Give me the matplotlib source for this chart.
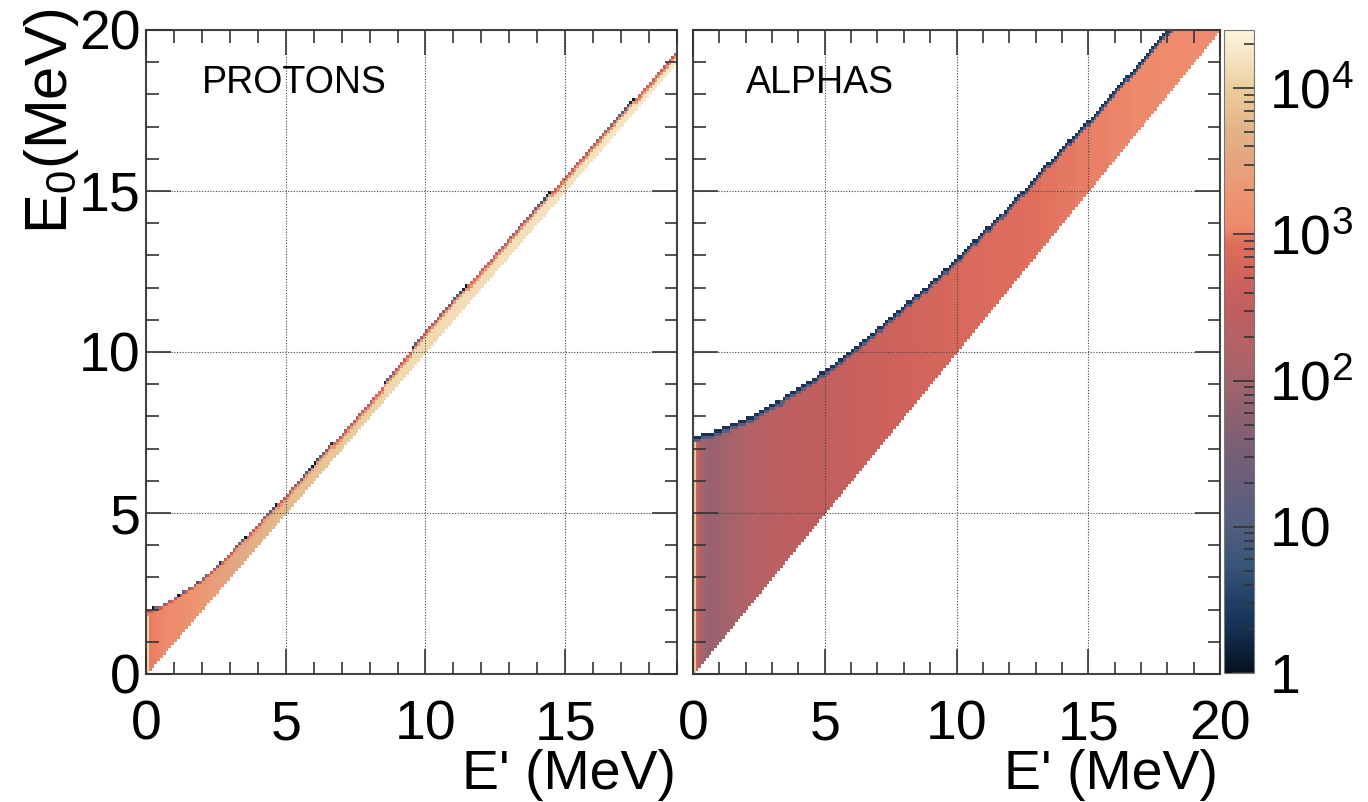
import numpy as np
import matplotlib

matplotlib.use("Agg")
import matplotlib.pyplot as plt
from matplotlib.colors import LinearSegmentedColormap, LogNorm
from matplotlib.ticker import FixedLocator, MultipleLocator, NullFormatter

plt.rcParams["font.family"] = ["Liberation Sans", "DejaVu Sans"]
plt.rcParams["mathtext.fontset"] = "custom"
plt.rcParams["mathtext.rm"] = "Liberation Sans"
plt.rcParams["mathtext.it"] = "Liberation Sans:italic"

# palette: log10(counts) -> colour
palette_log = [0.0, 0.25, 0.5, 0.75, 1.0, 1.25, 1.5, 1.75, 2.0, 2.25, 2.5,
               2.75, 2.95, 3.05, 3.25, 3.5, 3.75, 4.0, 4.2, 4.4]
palette_hex = ["#06121f", "#122c4c", "#224068", "#3a5678", "#525e80", "#655e7b",
               "#765e76", "#8c6170", "#a2636c", "#b36266", "#c15e5e", "#d2645b",
               "#e06e5c", "#ee8a6c", "#ec946f", "#e4a47f", "#e3b68a", "#eacc9e",
               "#f5e2bf", "#fcf3dc"]
z_min, z_max = 1.0, 2.5e4

# protons: upper edge of the filled band (lower edge is E0 = E')
proton_edge_x = [0.0, 0.5, 1.0, 1.5, 2.0, 2.5, 3.0, 3.6, 4.0, 4.7, 5.0, 6.0,
                 6.5, 7.0, 8.0, 10.0, 13.0, 16.0, 19.0]
proton_edge_e0 = [1.95, 2.05, 2.32, 2.6, 2.9, 3.28, 3.7, 4.25, 4.6, 5.25, 5.5,
                  6.45, 6.98, 7.4, 8.4, 10.6, 13.5, 16.4, 19.3]
# log10(counts) inside the band, column by column
proton_core_x = [0.05, 0.15, 1.0, 2.0, 3.0, 4.0, 5.0, 7.0, 9.0, 12.0, 16.0, 19.0]
proton_core_log = [4.1, 3.0, 3.08, 3.3, 3.5, 3.65, 3.8, 3.95, 4.1, 4.15, 4.2, 4.25]
proton_fringe_log = [2.85, 3.3]

# alphas: upper edge of the filled region
alpha_edge_x = [0.0, 0.7, 1.0, 1.3, 1.7, 2.2, 2.6, 3.0, 3.35, 4.0, 5.0, 6.0,
                7.0, 8.0, 9.0, 10.0, 11.0, 12.0, 13.0, 14.0, 15.0, 16.0,
                17.0, 18.0, 19.0, 20.0]
alpha_edge_e0 = [7.33, 7.48, 7.58, 7.67, 7.8, 7.98, 8.14, 8.35, 8.5, 8.85, 9.38,
                 10.0, 10.68, 11.4, 12.1, 12.86, 13.7, 14.5, 15.4, 16.3, 17.15,
                 18.1, 19.0, 19.95, 20.9, 21.8]
alpha_core_x = [0.05, 0.15, 0.3, 0.6, 1.0, 2.0, 3.0, 5.0, 7.0, 10.0, 13.0, 16.0, 20.0]
alpha_core_log = [4.0, 2.7, 2.1, 1.85, 1.95, 2.2, 2.38, 2.52, 2.65, 2.82, 2.95, 3.03, 3.1]
alpha_fringe_log = [0.35, 1.1]

bin_width = 0.1


def build_counts(x_max, y_max, edge_x, edge_e0, core_x, core_log, fringe_log, partial):
    x_edges = np.linspace(0.0, x_max, int(round(x_max / bin_width)) + 1)
    y_edges = np.linspace(0.0, y_max, int(round(y_max / bin_width)) + 1)
    xc = 0.5 * (x_edges[:-1] + x_edges[1:])
    yc = 0.5 * (y_edges[:-1] + y_edges[1:])
    X, Y = np.meshgrid(xc, yc)
    upper = np.interp(xc, edge_x, edge_e0)[None, :]
    core = np.interp(xc, core_x, core_log)[None, :] + 0 * Y
    ylo = Y - bin_width / 2
    cover = (upper - ylo) / bin_width
    depth = np.floor(cover)
    logc = core.copy()
    for k, lv in enumerate(fringe_log):
        logc = np.where(depth == k, np.minimum(logc, lv), logc)
    if partial:
        frac = np.clip(cover, 1e-3, 1.0)
        logc = np.where(depth == 0, logc + partial * np.log10(frac), logc)
    logc = np.clip(logc, 0.1, None)
    inside = (Y >= X - 1e-6) & (cover > 0)
    counts = np.ma.masked_where(~inside, 10.0 ** logc)
    return x_edges, y_edges, counts


cmap = LinearSegmentedColormap.from_list(
    "root_pal",
    list(zip((np.array(palette_log) - palette_log[0]) / (palette_log[-1] - palette_log[0]),
             palette_hex)),
)
norm = LogNorm(vmin=z_min, vmax=z_max)

fig = plt.figure(figsize=(13.68, 8.02), dpi=100)
ax_p = fig.add_axes([146 / 1368, 1 - 674 / 802, 531 / 1368, 644 / 802])
ax_a = fig.add_axes([693 / 1368, 1 - 674 / 802, 527 / 1368, 644 / 802])
ax_cb = fig.add_axes([1224 / 1368, 1 - 673 / 802, 30 / 1368, 643 / 802])

panels = [
    (ax_p, 19.0, proton_edge_x, proton_edge_e0, proton_core_x, proton_core_log,
     proton_fringe_log, 2.0, "PROTONS"),
    (ax_a, 20.0, alpha_edge_x, alpha_edge_e0, alpha_core_x, alpha_core_log,
     alpha_fringe_log, 0.0, "ALPHAS"),
]

tick_fs = 40
for ax, x_max, ex, ee, cx, cl, fl, part, name in panels:
    xe, ye, counts = build_counts(x_max, 20.0, ex, ee, cx, cl, fl, part)
    mesh = ax.pcolormesh(xe, ye, counts, cmap=cmap, norm=norm, shading="flat",
                         antialiased=False, linewidth=0, rasterized=True, zorder=1)
    ax.set_xlim(0, x_max)
    ax.set_ylim(0, 20)
    ax.xaxis.set_major_locator(FixedLocator([0, 5, 10, 15, 20]))
    ax.yaxis.set_major_locator(FixedLocator([0, 5, 10, 15, 20]))
    ax.xaxis.set_minor_locator(MultipleLocator(1))
    ax.yaxis.set_minor_locator(MultipleLocator(1))
    ax.set_axisbelow(False)
    ax.grid(True, which="major", linestyle=(0, (1, 1.5)), color="#444444",
            linewidth=0.8, zorder=3)
    ax.tick_params(which="both", direction="in", top=True, right=True,
                   color="#333333", width=1.2, labelsize=tick_fs)
    ax.tick_params(which="major", length=18)
    ax.tick_params(which="minor", length=9)
    ax.tick_params(axis="x", pad=18)
    ax.tick_params(axis="y", pad=4)
    for sp in ax.spines.values():
        sp.set_color("#444444")
        sp.set_linewidth(1.5)
    ax.text(2.0, 18.04, name, fontsize=27, ha="left", va="baseline")

ax_p.set_xticks([0, 5, 10, 15])
ax_a.tick_params(axis="y", labelleft=False)

fig.text(0.038, 0.99, r"E$_{\mathregular{0}}$(MeV)", rotation=90, ha="center",
         va="top", fontsize=43)
fig.text(676 / 1368, 0.016, "E' (MeV)", ha="right", va="baseline", fontsize=tick_fs)
fig.text(1218 / 1368, 0.016, "E' (MeV)", ha="right", va="baseline", fontsize=tick_fs)

cb = fig.colorbar(mesh, cax=ax_cb)
cb.outline.set_edgecolor("#777777")
cb.outline.set_linewidth(0.8)
cb.set_ticks([1, 10, 100, 1000, 10000])
cb.set_ticklabels(["1", "10", r"$\mathregular{10^{2}}$", r"$\mathregular{10^{3}}$",
                   r"$\mathregular{10^{4}}$"])
minor = [m * 10.0 ** d for d in range(0, 5) for m in range(2, 10) if m * 10.0 ** d < z_max]
ax_cb.yaxis.set_minor_locator(FixedLocator(minor))
ax_cb.yaxis.set_minor_formatter(NullFormatter())
ax_cb.tick_params(which="both", direction="in", color="#333333", width=1.2,
                  labelsize=tick_fs, pad=11)
ax_cb.tick_params(which="major", length=15)
ax_cb.tick_params(which="minor", length=7)

fig.savefig("out.png", dpi=100)
